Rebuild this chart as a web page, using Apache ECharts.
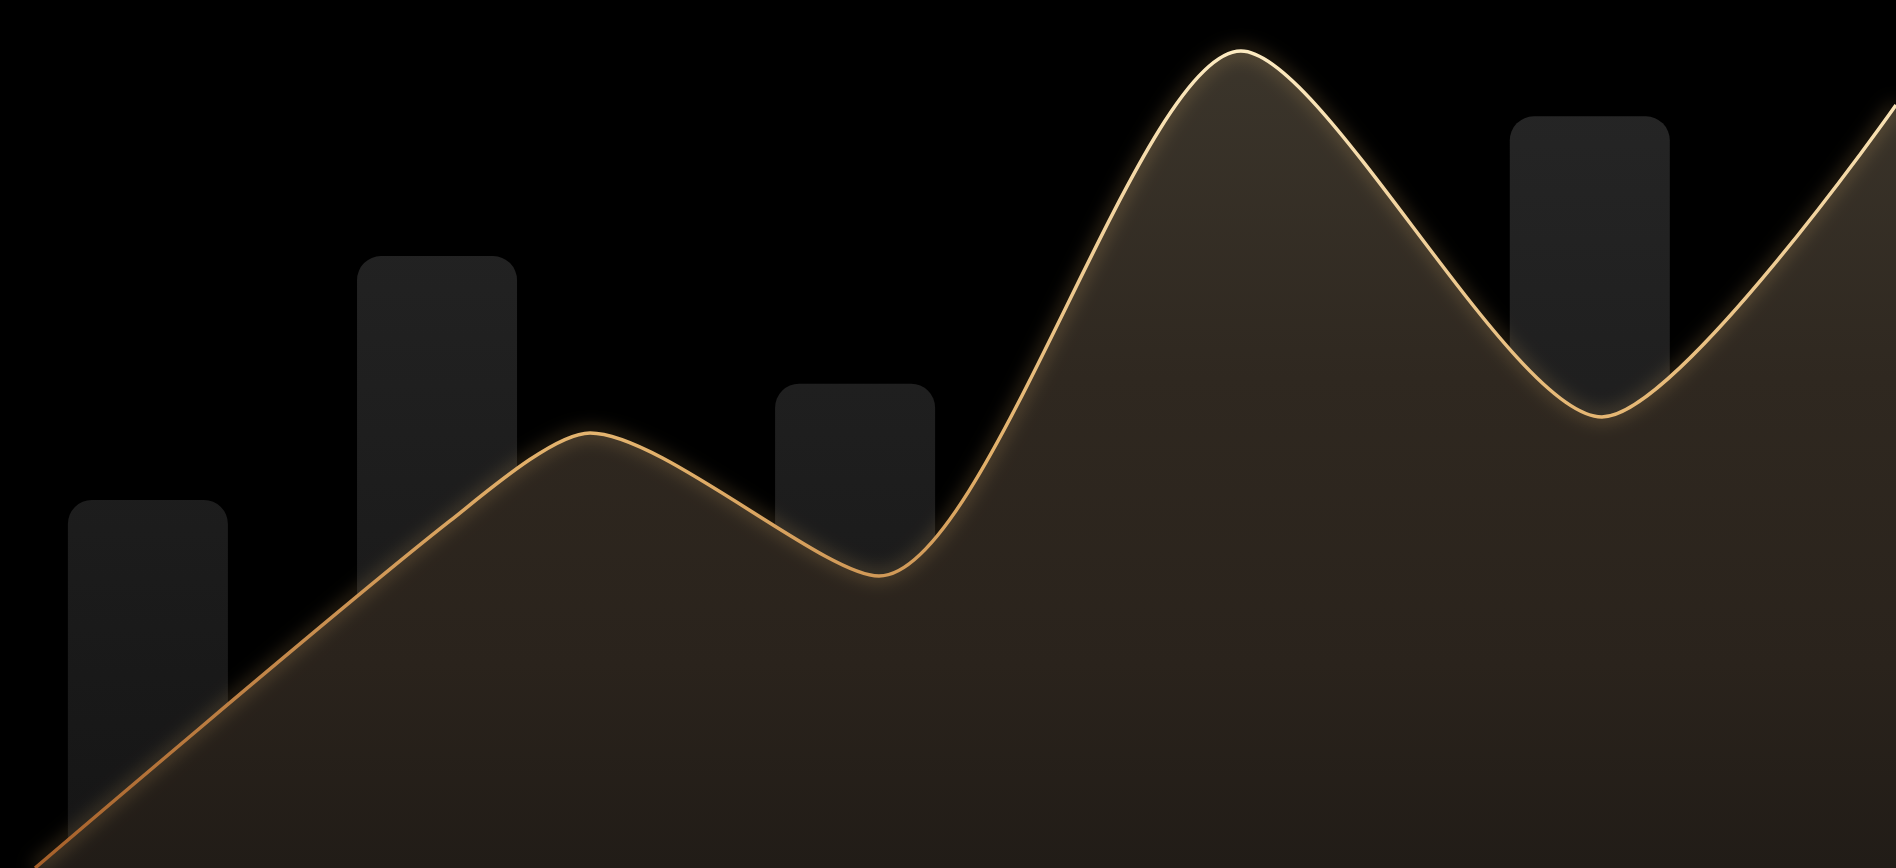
<!DOCTYPE html>
<html>
<head>
<meta charset="utf-8">
<style>
html,body{margin:0;padding:0;background:#000;}
#chart{width:1896px;height:868px;}
</style>
<script src="https://cdn.jsdelivr.net/npm/echarts@6/dist/echarts.min.js"></script>
</head>
<body>
<div id="chart"></div>
<script>
// Bar positions (x) and heights (y), on a 0-100 scale
const barX = [7.8, 23.05, 45.1, 83.85];
const barY = [42.4, 70.5, 55.8, 86.6];

// Line points (x, y) on a 0-100 scale
const lineX = [1.85, 23.73, 31.12, 46.36, 65.45, 84.49, 100];
const lineY = [0, 39.98, 50.12, 33.64, 94.12, 51.96, 87.90];

const chart = echarts.init(document.getElementById('chart'), null, {renderer: 'canvas'});
const G = echarts.graphic.LinearGradient;

const barData = barX.map((x, i) => [x, barY[i]]);
const lineData = lineX.map((x, i) => [x, lineY[i]]);

chart.setOption({
  backgroundColor: '#000000',
  animation: false,
  grid: {left: 0, right: 0, top: 0, bottom: 0, containLabel: false},
  xAxis: {type: 'value', min: 0, max: 100, show: false},
  yAxis: {type: 'value', min: 0, max: 100, show: false},
  series: [
    {
      type: 'bar',
      data: barData,
      barWidth: 160,
      z: 1,
      itemStyle: {
        borderRadius: [24, 24, 0, 0],
        color: new G(0, 0, 0, 868, [
          {offset: 0, color: '#272727'},
          {offset: 1, color: '#151515'}
        ], true)
      },
      emphasis: {disabled: true}
    },
    {
      type: 'line',
      data: lineData,
      smooth: 0.25,
      showSymbol: false,
      z: 3,
      lineStyle: {
        width: 3.5,
        color: new G(0, 0, 0, 1, [
          {offset: 0, color: '#fdebc2'},
          {offset: 0.5, color: '#e2b06a'},
          {offset: 1, color: '#a55f29'}
        ]),
        shadowColor: 'rgba(245, 195, 115, 0.7)',
        shadowBlur: 18
      },
      areaStyle: {
        opacity: 1,
        origin: 'start',
        color: new G(0, 0, 0, 1, [
          {offset: 0, color: '#3b352b'},
          {offset: 0.4, color: '#2f2820'},
          {offset: 0.75, color: '#2a231c'},
          {offset: 1, color: '#211c17'}
        ])
      },
      emphasis: {disabled: true}
    }
  ]
});
</script>
</body>
</html>
